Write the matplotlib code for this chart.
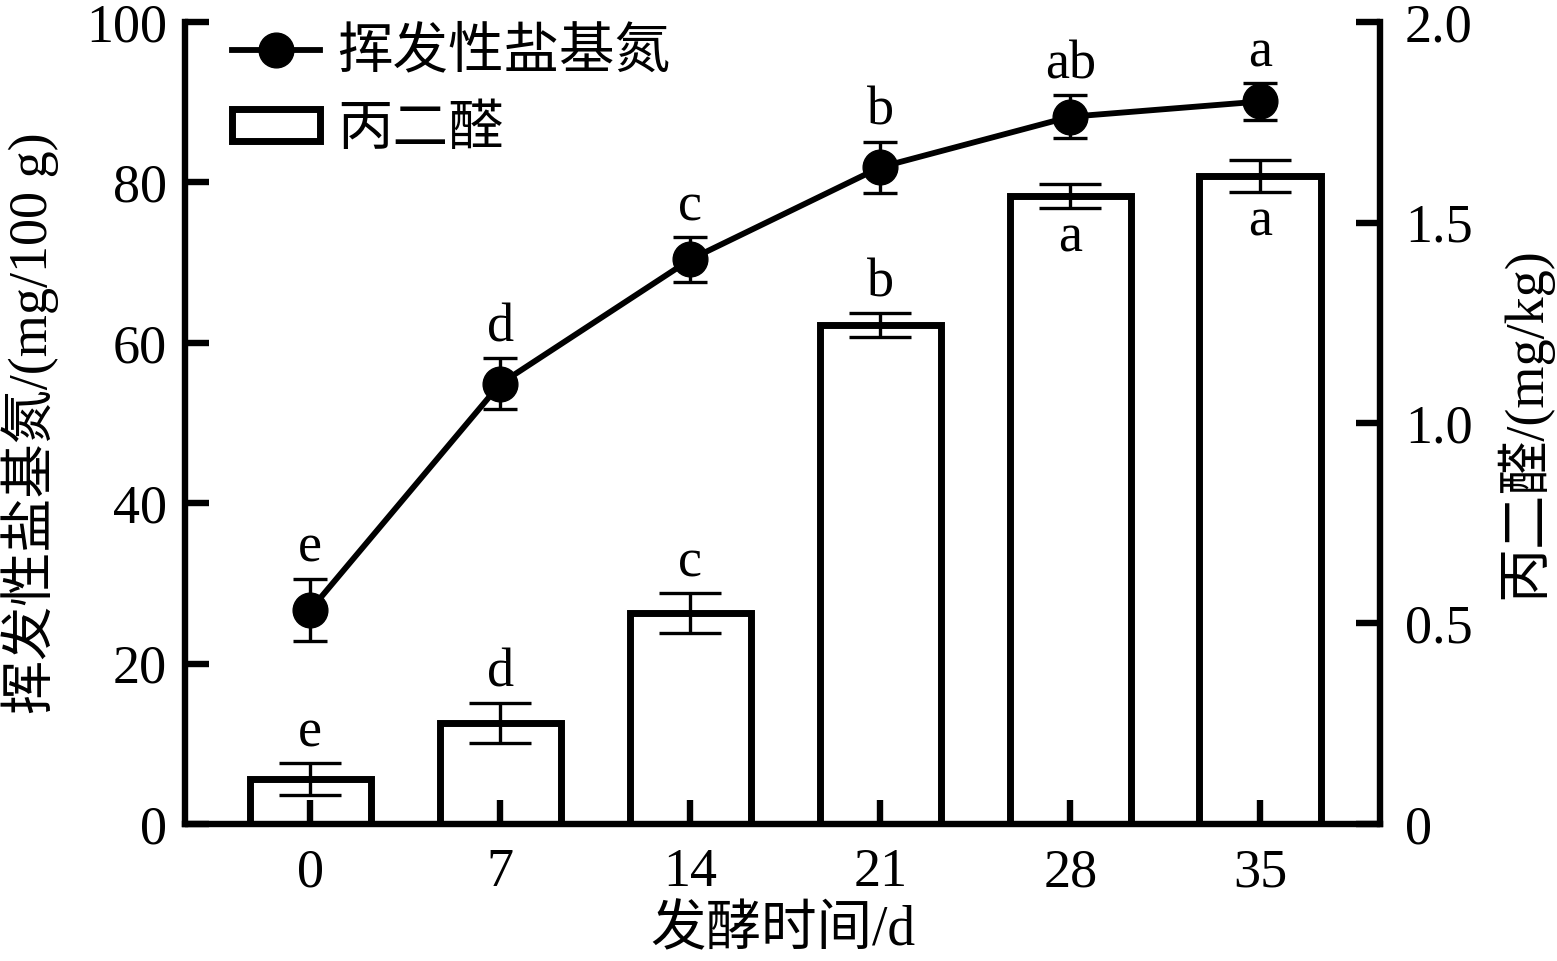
import matplotlib
matplotlib.use("Agg")
import matplotlib.pyplot as plt
from matplotlib.lines import Line2D
from matplotlib.patches import Rectangle
import numpy as np

plt.rcParams['font.family'] = ['Liberation Serif', 'Noto Sans CJK SC', 'DejaVu Sans']
plt.rcParams['axes.unicode_minus'] = False

days = ['0', '7', '14', '21', '28', '35']
tvbn = [26.7, 54.9, 70.4, 81.9, 88.2, 90.1]
tvbn_err = [3.9, 3.2, 2.8, 3.2, 2.7, 2.3]
tvbn_sig = ['e', 'd', 'c', 'b', 'ab', 'a']
mda = [0.112, 0.252, 0.526, 1.244, 1.566, 1.616]
mda_err = [0.04, 0.05, 0.05, 0.03, 0.03, 0.04]
mda_sig = ['e', 'd', 'c', 'b', 'a', 'a']
mda_sig_below = [False, False, False, False, True, True]

FS = 39
SPW = 4.6
LW = 4.2

fig = plt.figure(figsize=(15.57, 9.61), dpi=100)
ax = fig.add_axes([0.1188, 0.1426, 0.7675, 0.8344])
ax2 = ax.twinx()
ax.set_zorder(ax2.get_zorder() + 1)
ax.patch.set_visible(False)

x = np.arange(len(days))

# bars (right axis)
ax2.bar(x, mda, width=0.64, facecolor='white', edgecolor='black', linewidth=5.0, zorder=2)
ax2.errorbar(x, mda, yerr=mda_err, fmt='none', ecolor='black', elinewidth=2.4,
             capsize=22, capthick=2.4, zorder=3)
for xi, v, e, s, below in zip(x, mda, mda_err, mda_sig, mda_sig_below):
    if below:
        ax2.text(xi, v - e - 0.012, s, ha='center', va='top', fontsize=FS)
    else:
        ax2.text(xi, v + e + 0.012, s, ha='center', va='bottom', fontsize=FS)

# line (left axis)
ax.errorbar(x, tvbn, yerr=tvbn_err, fmt='-o', color='black', linewidth=LW,
            markersize=25, elinewidth=2.4, capsize=12, capthick=2.4, zorder=4)
for xi, v, e, s in zip(x, tvbn, tvbn_err, tvbn_sig):
    ax.text(xi, v + e + 0.6, s, ha='center', va='bottom', fontsize=FS)

ax.set_xlim(-0.66, 5.63)
ax.set_ylim(0, 100)
ax2.set_ylim(0, 2.0)
ax.set_xticks(x)
ax.set_xticklabels(days)
ax.set_yticks([0, 20, 40, 60, 80, 100])
ax2.set_yticks([0, 0.5, 1.0, 1.5, 2.0])
ax2.set_yticklabels(['0', '0.5', '1.0', '1.5', '2.0'])

for a in (ax, ax2):
    a.spines['top'].set_visible(False)
    for sp in a.spines.values():
        sp.set_linewidth(SPW)
ax.spines['right'].set_visible(False)
ax2.spines['left'].set_visible(False)
ax2.spines['bottom'].set_visible(False)

ax.tick_params(axis='both', direction='in', length=17, width=SPW, labelsize=FS)
ax.tick_params(axis='x', pad=17)
ax.tick_params(axis='y', pad=13)
ax2.tick_params(axis='y', direction='in', length=17, width=SPW, labelsize=FS, pad=18)

ax.set_xlabel('发酵时间/d', fontsize=FS + 1)
ax.xaxis.set_label_coords(0.5, -0.102)
ax.set_ylabel('挥发性盐基氮/(mg/100 g)', fontsize=FS)
ax.yaxis.set_label_coords(-0.105, 0.5)
ax2.set_ylabel('丙二醛/(mg/kg)', fontsize=FS, rotation=90)
ax2.yaxis.set_label_coords(1.096, 0.5)

h1 = Line2D([0], [0], color='black', linewidth=LW, marker='o', markersize=25)
h2 = Rectangle((0, 0), 1, 1, facecolor='white', edgecolor='black', linewidth=5.0)
leg = ax.legend([h1, h2], ['挥发性盐基氮', '丙二醛'], loc='upper left',
                bbox_to_anchor=(0.039, 0.993), frameon=False, fontsize=FS + 1,
                borderpad=0, borderaxespad=0,
                handlelength=1.6, handleheight=0.5, handletextpad=0.3, labelspacing=0.45)

fig.savefig('out.png', dpi=100)
